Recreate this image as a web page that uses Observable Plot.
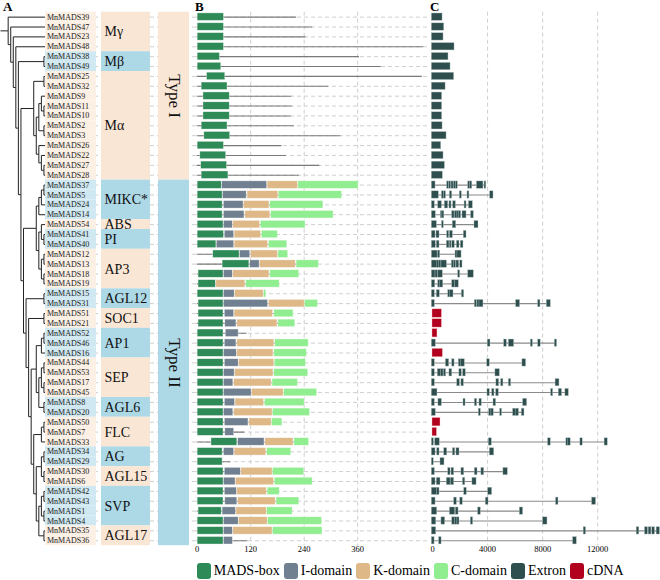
<!DOCTYPE html>
<html><head><meta charset="utf-8">
<script src="https://cdn.jsdelivr.net/npm/d3@7"></script>
<script src="https://cdn.jsdelivr.net/npm/@observablehq/plot@0.6"></script>
<style>
body{margin:0;background:#fff;}
#chart{position:relative;width:660px;height:580px;font-family:"Liberation Serif","Times New Roman",serif;background:#fff;overflow:hidden;}
.lab{position:absolute;font-weight:bold;font-size:13px;line-height:13px;top:0px;}
#legend{position:absolute;top:563px;left:196.7px;display:flex;align-items:center;font-size:14px;line-height:16px;white-space:nowrap;}
#legend .it{display:flex;align-items:center;margin-right:4px;}
#legend .sw{width:14px;height:16px;border-radius:3px;margin-right:3px;}
</style></head><body>
<div id="chart"></div>
<script>
// ---------- data ----------
const genes = ["MnMADS39","MnMADS47","MnMADS23","MnMADS48","MnMADS38","MnMADS49","MnMADS25","MnMADS32","MnMADS9","MnMADS11","MnMADS10","MnMADS2","MnMADS3","MnMADS26","MnMADS22","MnMADS27","MnMADS28","MnMADS37","MnMADS5","MnMADS24","MnMADS14","MnMADS54","MnMADS41","MnMADS40","MnMADS12","MnMADS13","MnMADS18","MnMADS19","MnMADS15","MnMADS31","MnMADS51","MnMADS21","MnMADS52","MnMADS46","MnMADS16","MnMADS44","MnMADS53","MnMADS17","MnMADS45","MnMADS8","MnMADS20","MnMADS50","MnMADS7","MnMADS33","MnMADS34","MnMADS29","MnMADS30","MnMADS6","MnMADS42","MnMADS43","MnMADS1","MnMADS4","MnMADS35","MnMADS36"];
const groupNames = ["Mγ","Mβ","Mα","MIKC*","ABS","PI","AP3","AGL12","SOC1","AP1","SEP","AGL6","FLC","AG","AGL15","SVP","AGL17"];
const groupSizes = [4,2,11,4,1,2,4,2,2,3,4,2,3,2,2,4,2];
const typeNames = ["Type I","Type II"];
const typeSizes = [17,37];

// phylogeny (topology, leaf numbers = MnMADS ids)
const cladeMalpha = "((25,32),(((9,(11,10)),(2,3)),(26,(22,(27,28)))))";
const cladeMIKC = "((((37,5),24),14),((54,(41,40)),((12,13),(18,19))))";
const cladeRest = "((((52,46),16),(((44,53),(17,45)),(8,20))),(((50,7),33),(((34,29),(30,6)),(((42,43),(1,4)),(35,36)))))";
const newick = "(39,(47,(23,(48,((38,49),(" + cladeMalpha + ",(" + cladeMIKC + ",((15,31),((51,21)," + cladeRest + ")))))))))";

// protein lengths (aa) and domains [start,end]
const proteinLength = [223,259,244,508,364,413,505,295,212,213,211,218,322,190,200,275,229,362,325,283,306,243,181,202,204,273,229,185,155,271,216,220,112,250,246,244,249,226,269,241,253,191,107,251,211,75,240,259,185,229,214,280,281,114];
const madsBox = [[1,60],[1,60],[1,60],[1,60],[1,51],[1,54],[22,63],[10,68],[14,73],[14,73],[14,73],[10,68],[16,74],[1,60],[7,65],[9,67],[10,70],[1,55],[1,57],[1,57],[1,57],[1,59],[1,60],[1,43],[36,95],[57,117],[3,59],[3,42],[1,59],[3,59],[3,59],[3,59],[1,59],[1,59],[1,59],[1,59],[1,59],[1,59],[1,59],[1,59],[1,59],[1,59],[1,59],[32,90],[1,57],[1,57],[1,59],[1,59],[1,59],[1,59],[3,55],[1,59],[1,59],[1,59]];
const iDomain = [null,null,null,null,null,null,null,null,null,null,null,null,null,null,null,null,null,[56,157],[58,111],[60,104],[60,106],[60,80],[62,83],[44,83],[96,119],[119,140],[60,80],null,[60,84],[60,159],[62,83],[63,88],[64,93],[62,88],[60,89],[62,93],[60,84],[60,81],[60,122],[62,85],[60,81],[62,115],[63,83],[92,151],[60,83],null,[62,98],[60,86],[62,89],[63,90],[57,87],[60,93],[60,80],[60,80]];
const kDomain = [null,null,null,null,null,null,null,null,null,null,null,null,null,null,null,null,null,[158,226],[113,182],[105,162],[108,164],[81,141],[84,143],[84,159],[121,181],[141,221],[81,162],[43,108],[85,149],[161,241],[84,170],[90,180],null,[90,173],[90,171],[94,173],[85,171],[83,167],[123,194],[86,150],[83,169],[117,167],null,[153,216],[84,155],null,[99,169],[87,172],[90,156],[92,176],[88,156],[94,158],[81,169],null];
const cDomain = [null,null,null,null,null,null,null,null,null,null,null,null,null,null,null,null,null,[227,362],[183,325],[164,283],[166,306],[143,243],[145,181],[161,202],[182,204],[223,273],[164,229],[110,185],[150,155],[242,271],[173,216],[182,220],null,[175,250],[173,246],[174,244],[173,249],[169,226],[195,269],[152,241],[170,253],[168,191],null,[218,251],[157,211],null,[170,240],[174,259],[158,185],[178,229],[157,214],[159,280],[170,281],null];

// gene structures (bp): exons per gene; cDNA length where only cDNA was available
const exons = [
 [[0,680]],[[0,800]],[[0,750]],[[0,1550]],[[0,1110]],[[0,1260]],[[0,1520]],[[0,900]],[[0,650]],[[0,650]],[[0,650]],[[0,680]],[[0,970]],[[0,580]],[[0,750]],[[0,850]],[[0,700]],
 [[0,170],[1110,1160],[1260,1310],[1430,1480],[1600,1650],[1740,1790],[2640,2700],[2780,2840],[3270,3650],[3830,3860]],
 [[0,410],[730,800],[880,930],[1310,1380],[2030,2080],[2590,2630],[4230,4380]],
 [[0,120],[460,630],[940,1090],[1280,1330],[1550,1650],[2380,2420],[2690,2880]],
 [[0,190],[650,690],[770,810],[1475,1550],[1670,1770],[1860,1910],[1960,2030],[2230,2420],[2850,2950]],
 [[0,270],[740,770],[1520,1670],[3100,3290]],
 [[0,170],[340,460],[1110,1160],[1310,1430],[2320,2420]],
 [[0,190],[360,460],[1090,1180],[1300,1330],[1480,1570],[1820,1910],[2100,2200]],
 [[0,315],[440,510],[1720,1790],[1860,2060]],
 [[0,360],[390,460],[530,600],[700,1000],[1450,1520],[1600,1670],[1790,1890],[2060,2130]],
 [[0,170],[270,360],[460,700],[1910,1960],[2640,2950]],
 [[0,150],[460,530],[580,730],[1475,1570],[1670,1860]],
 [[0,120],[360,480],[1190,1260],[1330,1475],[2180,2250]],
 [[0,120],[3120,3190],[3310,3380],[3460,3650],[6120,6310],[7720,7790],[8350,8540]],
 null,null,null,
 [[0,190],[4060,4160],[5250,5350],[5590,5880],[7190,7240],[7720,7810],[8930,9000]],
 null,
 [[0,120],[1020,1160],[1480,1550],[1960,2060],[2130,2300],[4020,4110],[6580,6750]],
 [[0,120],[430,560],[650,750],[870,940],[1280,1380],[2000,2080],[2270,2370],[4620,4840]],
 [[0,120],[1840,1940],[2150,2230],[4690,4790],[5030,5100],[5590,5660],[8990,9170]],
 [[0,310],[4040,4110],[4380,4450],[4670,4770],[8660,8710],[9220,9360],[9700,9850]],
 [[0,120],[480,630],[2300,2350],[3120,3190],[3460,3530],[4480,4570],[6630,6820]],
 [[0,190],[3410,3460],[4160,4240],[4330,4400],[4960,5000],[5900,6070],[6130,6230],[6530,6630]],
 null,null,
 [[0,50],[240,480],[4140,4260],[8440,8540],[9770,9850],[9890,9990],[10790,10860],[12550,12680]],
 [[0,170],[390,460],[900,1020],[1530,1600],[1790,1910],[4210,4430]],
 [[0,40],[630,820]],
 [[0,120],[1190,1260],[1430,1520],[2150,2250],[3120,3220],[3600,3700],[5200,5420]],
 [[0,170],[360,530],[1090,1260],[1380,1520],[2260,2330],[2950,3150]],
 [[0,270],[360,460],[2350,2440],[4090,4280]],
 [[0,170],[1620,1720],[2060,2150],[3920,4020],[9020,9100],[11640,11830]],
 [[0,290],[1310,1600],[1740,1840],[3360,3460],[6390,6530]],
 [[0,220],[700,870],[1480,1600],[1670,1770],[1860,1910],[2830,2900],[8080,8300]],
 [[0,220],[11030,11100],[14880,14970],[15480,15600],[15750,15850],[16010,16110],[16330,16470]],
 [[0,100],[530,610],[10260,10430]]
];
const cdnaLength = {"MnMADS51":680,"MnMADS21":680,"MnMADS52":360,"MnMADS16":750,"MnMADS50":580,"MnMADS7":320};

const domainColors = {"MADS-box":"#2E8B57","I-domain":"#708090","K-domain":"#DEB887","C-domain":"#90EE90","Extron":"#2F4F4F","cDNA":"#B2001F"};
const groupColors = ["#FAE6D5","#ADD8E6"];
const geneBgColors = ["#FCEFE4","#CFE8F1"];

// ---------- derived tables ----------
const rows = genes.map((g, i) => ({i, g}));
const groups = [];
{ let s = 0; groupNames.forEach((n, k) => { groups.push({name: n, first: s, last: s + groupSizes[k] - 1, k}); s += groupSizes[k]; }); }
const types = [];
{ let s = 0; typeNames.forEach((n, k) => { types.push({name: n, first: s, last: s + typeSizes[k] - 1, k}); s += typeSizes[k]; }); }
const groupOf = i => groups.find(gr => i >= gr.first && i <= gr.last);

const domains = [];
genes.forEach((g, i) => {
  [["MADS-box", madsBox], ["I-domain", iDomain], ["K-domain", kDomain], ["C-domain", cDomain]].forEach(([kind, arr]) => {
    if (arr[i]) domains.push({i, kind, s: arr[i][0], e: arr[i][1]});
  });
});
const exonRows = [], geneLines = [], cdnaRows = [];
genes.forEach((g, i) => {
  if (exons[i]) {
    exons[i].forEach(([s, e]) => exonRows.push({i, s, e}));
    geneLines.push({i, e: d3.max(exons[i], d => d[1])});
  } else if (cdnaLength[g]) cdnaRows.push({i, s: 0, e: cdnaLength[g]});
});

// tree layout
function parseNewick(s) {
  let p = 0;
  function node() {
    if (s[p] === "(") {
      p++;
      const children = [];
      do { children.push(node()); } while (s[p] === "," && ++p);
      p++;
      return {children};
    }
    const j = p;
    while (p < s.length && !",();".includes(s[p])) p++;
    return {name: "MnMADS" + s.slice(j, p)};
  }
  return node();
}
const root = d3.hierarchy(parseNewick(newick));
const Hh = root.height;
root.eachAfter(n => {
  n.py = n.children ? (n.children[0].py + n.children[n.children.length - 1].py) / 2 : genes.indexOf(n.data.name);
  n.px = Hh - n.height;
});
const links = root.links().map(l => ({x1: l.source.px, y1: l.source.py, x2: l.target.px, y2: l.target.py}));

// ---------- drawing ----------
const chart = document.getElementById("chart");
const HEIGHT = 560;
const common = {height: HEIGHT, marginTop: 11.7, marginBottom: 14.8,
  y: {domain: [genes.length - 0.5, -0.5], axis: null},
  style: {background: "transparent", fontFamily: "'Liberation Serif','Times New Roman',serif", overflow: "visible"}};
function place(svg, left) {
  svg.style.position = "absolute"; svg.style.left = left + "px"; svg.style.top = "0px";
  chart.append(svg);
}
const grid = {stroke: "#cfcfcf", strokeDasharray: "4,3", strokeWidth: 1};

// row gridlines
place(Plot.plot({...common, width: 383, marginLeft: 0, marginRight: 0, x: {domain: [0, 1], axis: null},
  marks: [Plot.ruleY(rows, {y: "i", ...grid})]}), 45);

// tree
place(Plot.plot({...common, width: 46, marginLeft: 0, marginRight: 0, x: {domain: [-3, Hh], axis: null},
  marks: [
    Plot.link([{x1: -3, x2: 0, y: root.py}], {x1: "x1", x2: "x2", y1: "y", y2: "y", stroke: "#222", strokeWidth: 1}),
    Plot.link(links, {x1: "x1", y1: "y1", x2: "x2", y2: "y2", curve: "step-before", stroke: "#222", strokeWidth: 1})
  ]}), 0);

// gene names column
place(Plot.plot({...common, width: 51, marginLeft: 0, marginRight: 0, x: {domain: [0, 1], axis: null},
  marks: [
    Plot.rect(rows, {x1: 0, x2: 1, y1: d => d.i - 0.5, y2: d => d.i + 0.5, fill: d => geneBgColors[groupOf(d.i).k % 2]}),
    Plot.text(rows, {x: 0, y: "i", text: "g", textAnchor: "start", dx: 1.5, fontSize: 8, fill: "#222"})
  ]}), 45);

// group column
place(Plot.plot({...common, width: 49, marginLeft: 0, marginRight: 0, x: {domain: [0, 1], axis: null},
  marks: [
    Plot.rect(groups, {x1: 0, x2: 1, y1: d => d.first - 0.5, y2: d => d.last + 0.5, fill: d => groupColors[d.k % 2]}),
    Plot.text(groups, {x: 0, y: d => (d.first + d.last) / 2, text: "name", textAnchor: "start", dx: 3, fontSize: 14, fill: "#111"})
  ]}), 101);

// type column
place(Plot.plot({...common, width: 31, marginLeft: 0, marginRight: 0, x: {domain: [0, 1], axis: null},
  marks: [
    Plot.rect(types, {x1: 0, x2: 1, y1: d => d.first - 0.5, y2: d => d.last + 0.5, fill: d => groupColors[d.k % 2]}),
    Plot.text(types, {x: 0.5, y: d => (d.first + d.last) / 2, text: "name", rotate: 90, fontSize: 17, fill: "#111"})
  ]}), 158);

// panel B: protein domains
place(Plot.plot({...common, width: 660, marginLeft: 196.7, marginRight: 231.5, x: {domain: [0, 520], axis: null},
  marks: [
    Plot.ruleX([120, 240, 360], grid),
    Plot.ruleY(rows, {y: "i", x1: 0, x2: d => proteinLength[d.i], stroke: "#7a7a7a", strokeWidth: 1.1}),
    Plot.rect(domains, {x1: "s", x2: "e", y1: d => d.i - 0.38, y2: d => d.i + 0.38, fill: d => domainColors[d.kind], stroke: "#ffffff", strokeWidth: 0.6, strokeOpacity: 0.6}),
    Plot.axisX({ticks: [0, 120, 240, 360], tickSize: 0, tickPadding: 0, fontSize: 8.5, tickFormat: d => String(d)})
  ]}), 0);

// panel C: gene structures
place(Plot.plot({...common, width: 660, marginLeft: 432, marginRight: 0, x: {domain: [0, 16560], axis: null},
  marks: [
    Plot.ruleX([4000, 8000, 12000], grid),
    Plot.ruleY(geneLines, {y: "i", x1: 0, x2: "e", stroke: "#8a8a8a", strokeWidth: 1.1}),
    Plot.rect(exonRows, {x1: "s", x2: "e", y1: d => d.i - 0.37, y2: d => d.i + 0.37, insetLeft: -0.7, insetRight: -0.7, fill: domainColors["Extron"], stroke: "#b5c4c4", strokeWidth: 0.4}),
    Plot.rect(cdnaRows, {x1: "s", x2: "e", y1: d => d.i - 0.42, y2: d => d.i + 0.42, fill: domainColors["cDNA"], stroke: "#f0b0b0", strokeWidth: 0.4}),
    Plot.axisX({ticks: [0, 4000, 8000, 12000], tickSize: 0, tickPadding: 0, fontSize: 8.5, tickFormat: d => String(d)})
  ]}), 0);

// panel letters
[["A", 3], ["B", 195], ["C", 430]].forEach(([t, x]) => {
  const d = document.createElement("div"); d.className = "lab"; d.textContent = t;
  d.style.left = x + "px"; chart.append(d);
});

// legend
const lg = document.createElement("div"); lg.id = "legend";
Object.entries(domainColors).forEach(([k, c]) => {
  const it = document.createElement("div"); it.className = "it";
  const sw = document.createElement("div"); sw.className = "sw"; sw.style.background = c;
  const tx = document.createElement("span"); tx.textContent = k;
  it.append(sw, tx); lg.append(it);
});
chart.append(lg);
</script>
</body></html>
